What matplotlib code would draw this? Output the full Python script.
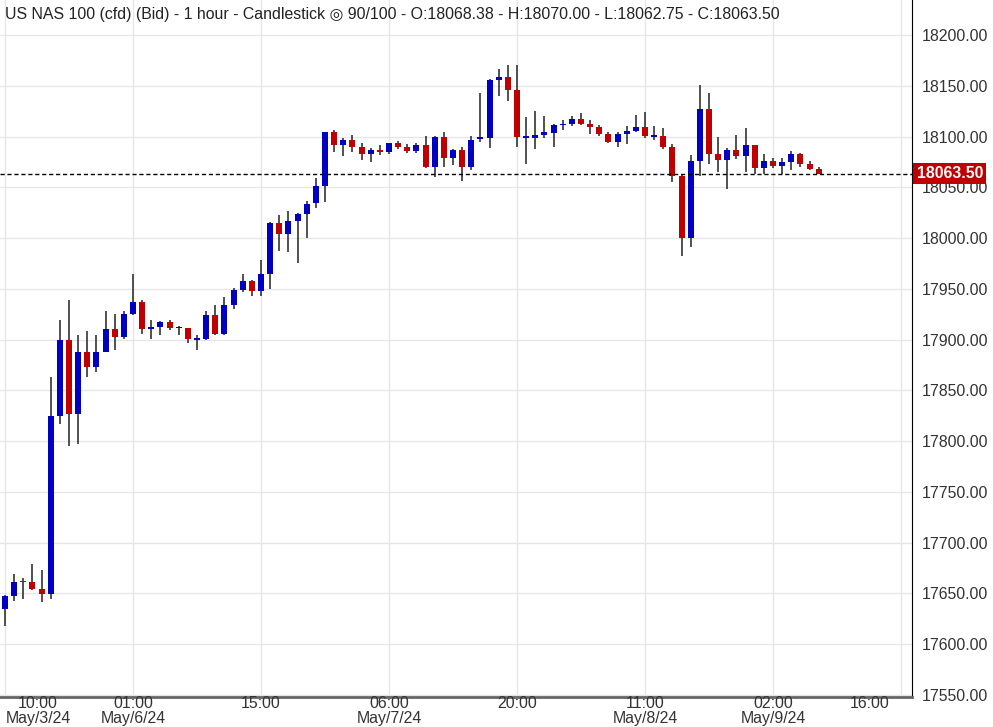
import matplotlib
matplotlib.use("Agg")
import matplotlib.pyplot as plt
import matplotlib.transforms as mtransforms

opens  = [17635,17647,17662,17661,17654,17649,17825,17900,17827,17888,17873,17888,17910,17903,17925,17937,17910,17912,17917,17911,
          17911,17900,17901,17924,17906,17934,17949,17958,17948,17965,18015,18004,18017,18024,18035,18051,18104,18092,18097,18090,
          18083,18087,18085,18094,18090,18086,18092,18070,18100,18079,18087,18070,18098,18099,18156,18159,18146,18099,18099,18102,
          18103.5,18111,18112,18117,18112,18109,18102.5,18094.6,18102.5,18105.5,18109.4,18100,18101,18090,18061,18000,18076,18127,18083,18077,
          18087,18081,18092,18069,18076,18071,18075,18083,18073,18068.38]
highs  = [17648,17669,17665,17679,17673,17863,17919,17939,17905,17908,17905,17928,17925,17928,17965,17939,17919,17918,17919,17913,
          17911,17905,17928,17934,17942,17951,17965,17959,17978,18016,18023,18027,18025,18037,18059,18104,18106,18099,18102,18094,
          18089,18092,18094,18096,18092.5,18094,18101,18101,18104,18088,18090,18101,18143,18157,18167,18170,18170,18119,18125,18120,
          18112,18116,18120,18123,18116,18111,18104.5,18104.5,18110,18121,18124,18110,18108,18093,18062,18082,18151,18143,18099.5,18089,
          18101.5,18108,18092,18083,18078.5,18078.5,18085.7,18084,18076,18070]
lows   = [17618,17643,17645,17653,17642,17645,17817,17795,17797,17863,17868,17890,17890,17901,17924,17906,17901,17905,17909,17905,
          17897,17890,17900,17905,17905,17930,17947,17943,17943,17950,17987,17986,17975,18000,18030,18036,18085,18081,18085,18077,
          18075,18082,18083,18088,18084,18084,18069,18060,18070,18072,18056,18067,18095,18089,18140,18135,18090,18073,18088,18099,
          18090,18106,18110,18111,18102.5,18100.5,18093.6,18089.7,18092.6,18104.5,18098.6,18096.6,18087.7,18055.5,17982,17991,18061,18073,18064.6,18048,
          18078,18065,18063.5,18063.5,18069,18063.5,18066.6,18070,18067,18062.75]
closes = [17647,17661,17661,17654,17649,17825,17900,17827,17888,17873,17888,17910,17903,17925,17937,17910,17912,17917,17911,17911,
          17901,17901,17924,17906,17934,17949,17958,17948,17965,18015,18004,18017,18024,18034,18051,18104,18092,18097,18090,18083,
          18087,18085,18094,18090,18086,18092,18070,18100,18079,18087,18070,18097,18099,18156,18159,18146,18100,18100,18102,18104,
          18111,18112,18117,18112,18109.4,18102.5,18094.6,18102.5,18105.5,18109.4,18100.5,18101,18090,18061.4,18000.4,18076,18127,18083,18077,18087,
          18081,18092,18069,18076,18071,18074.9,18083,18073,18068.3,18063.5]
n = len(opens)

yticks = [17550,17600,17650,17700,17750,17800,17850,17900,17950,18000,18050,18100,18150,18200]
xtick_idx = [0,14,28,42,56,70,84,98]
xtick_times = ["10:00","01:00","15:00","06:00","20:00","11:00","02:00","16:00"]
xtick_dates = ["May/3/24","May/6/24","","May/7/24","","May/8/24","May/9/24",""]
last_price = 18063.50
title = "US NAS 100 (cfd) (Bid) - 1 hour - Candlestick \u25CE 90/100 - O:18068.38 - H:18070.00 - L:18062.75 - C:18063.50"

plt.rcParams['font.family'] = ['Liberation Sans', 'DejaVu Sans']
FS = 11.4
fig = plt.figure(figsize=(9.93, 7.27), dpi=100)
ax = fig.add_axes([0, 30/727, 912/993, 697/727])
ax.set_xlim(-0.55, 99.2)
ax.set_ylim(17548, 18234.5)

up_c, dn_c = "#0000c0", "#c00000"
for i in range(n):
    o, h, l, c = opens[i], highs[i], lows[i], closes[i]
    ax.vlines(i, l, h, color="#333333", lw=1.2, zorder=2)
    col = up_c if c >= o else dn_c
    bot, top = min(o, c), max(o, c)
    hgt = max(top - bot, 1.5)
    ax.bar(i, hgt, bottom=bot, width=0.66, color=col, zorder=3, linewidth=0)

ax.set_yticks(yticks)
ax.set_xticks(xtick_idx)
ax.grid(True, color="#e6e6e6", lw=1, zorder=0)
ax.set_axisbelow(True)
ax.yaxis.tick_right()
ax.set_yticklabels([f"{v:.2f}" for v in yticks], fontsize=FS, color="#333333")
ax.tick_params(axis='y', length=0, pad=7)
ax.tick_params(axis='x', length=0, labelbottom=False)
for s in ["top", "left"]:
    ax.spines[s].set_visible(False)
ax.spines["right"].set_color("black")
ax.spines["bottom"].set_color("#666666")
ax.spines["bottom"].set_linewidth(2)

trans = mtransforms.blended_transform_factory(ax.transData, fig.transFigure)
for k, idx in enumerate(xtick_idx):
    xpos = idx
    if k == 0:
        xpos = idx + 3.6
    if k == len(xtick_idx) - 1:
        xpos = idx - 3.4
    ax.text(xpos, 1 - 703/727, xtick_times[k], transform=trans, ha="center", va="center", fontsize=FS, color="#333333")
    if xtick_dates[k]:
        ax.text(xpos, 1 - 718/727, xtick_dates[k], transform=trans, ha="center", va="center", fontsize=FS, color="#333333")

ax.axhline(last_price, color="black", ls=(0, (3, 2)), lw=1, zorder=4)
ax.text(1.005, last_price, f"{last_price:.2f}", transform=ax.get_yaxis_transform(), ha="left", va="center",
        fontsize=FS, color="white", fontweight="bold",
        bbox=dict(boxstyle="square,pad=0.2", fc="#c00000", ec="none"), zorder=6, clip_on=False)

ax.text(0.006, 1 - 15/697, title, transform=ax.transAxes, ha="left", va="center", fontsize=FS, color="#222222")

fig.savefig("out.png", dpi=100)
